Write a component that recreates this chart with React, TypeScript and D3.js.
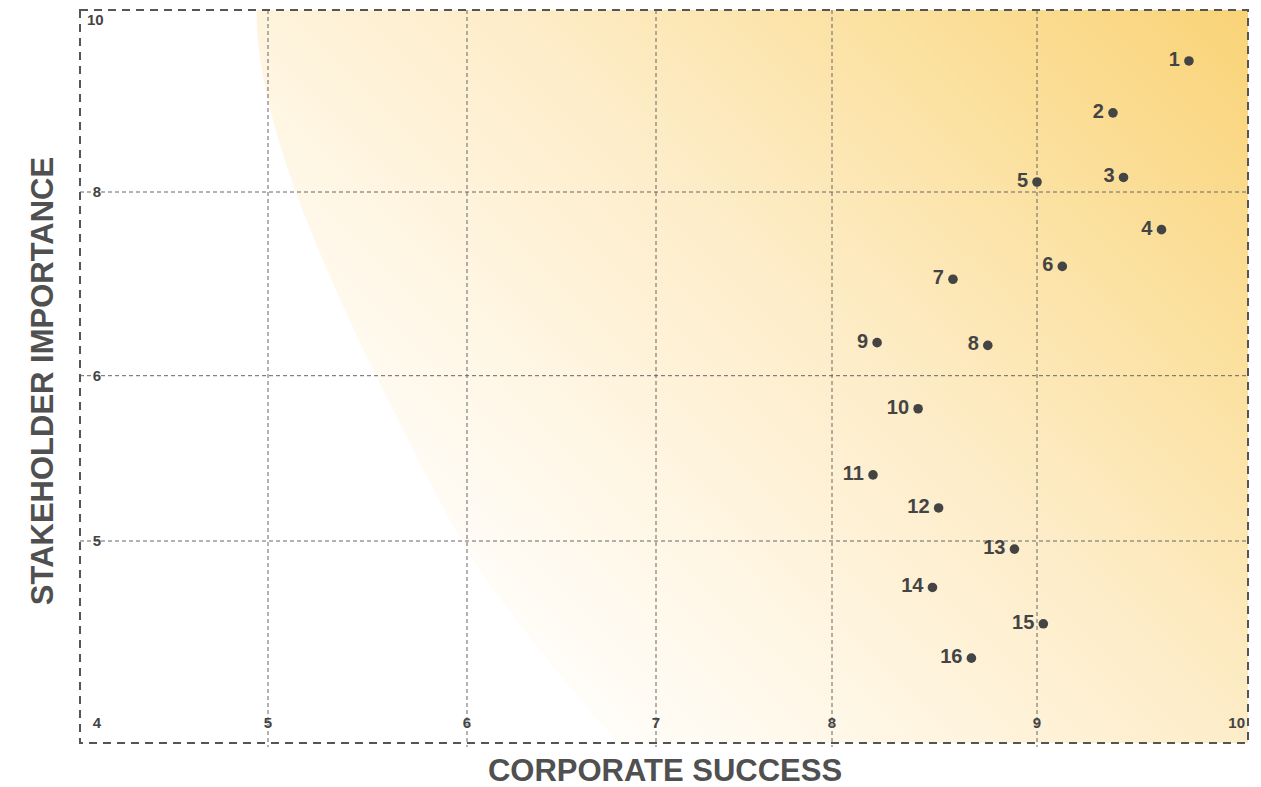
import React from "react";
import * as d3 from "d3";

// ---- data ----
const itemIds = [1, 2, 3, 4, 5, 6, 7, 8, 9, 10, 11, 12, 13, 14, 15, 16];
const corporateSuccess = [9.72, 9.36, 9.41, 9.59, 9.0, 9.12, 8.59, 8.76, 8.22, 8.42, 8.2, 8.52, 8.89, 8.49, 9.03, 8.68];
const stakeholderImportance = [9.44, 8.87, 8.16, 7.59, 8.11, 7.19, 7.05, 6.33, 6.36, 5.8, 5.4, 5.2, 4.96, 4.77, 4.59, 4.42];

const xTicks = [4, 5, 6, 7, 8, 9, 10];
const yTicks = [4, 5, 6, 8, 10];

// boundary of the highlighted zone (in data units)
const zoneX = [4.94, 4.94, 4.99, 5.13, 5.36, 5.54, 5.83, 5.97, 6.17, 6.6, 6.8];
const zoneY = [10, 9.7, 9.01, 8, 6.82, 6, 5.31, 5, 4.71, 4.21, 4];

const W = 1261;
const H = 787;
const L = 80, R = 1248, T = 10, B = 743;

const x = d3.scaleLinear().domain(xTicks).range([80, 268, 467, 656, 832, 1037, 1248]);
const y = d3.scaleLinear().domain(yTicks).range([743, 541, 375.7, 192, 10]);

const font = "'Liberation Sans', Arial, Helvetica, sans-serif";

export default function App() {
  const pts: [number, number][] = zoneX.map((v, i) => [x(v), y(zoneY[i])]);
  const line = d3.line().curve(d3.curveBasis)(pts) || "";
  const zonePath = `${line}L${x(10)},${y(4)}L${x(10)},${y(10)}Z`;

  const gridX = xTicks.filter((t) => t !== 4 && t !== 10);
  const gridY = yTicks.filter((t) => t !== 4 && t !== 10);

  return (
    <svg
      width={W}
      height={H}
      style={{ position: "absolute", left: 0, top: 0, background: "#fff" }}
      fontFamily={font}
    >
      <defs>
        <linearGradient id="zoneGrad" gradientUnits="userSpaceOnUse" x1={R} y1={T} x2={R - 1168 * 0.62} y2={T + 733 * 0.62 * 1.6}>
          <stop offset="0" stopColor="#f9d377" />
          <stop offset="0.25" stopColor="#fbe09e" />
          <stop offset="0.5" stopColor="#fdecc7" />
          <stop offset="0.8" stopColor="#fff8ea" />
          <stop offset="1" stopColor="#ffffff" />
        </linearGradient>
      </defs>

      <path d={zonePath} fill="url(#zoneGrad)" />

      {/* grid */}
      {gridX.map((t) => (
        <line key={"gx" + t} x1={x(t)} x2={x(t)} y1={T} y2={B + 4} stroke="#666" strokeWidth={1} strokeDasharray="4,3" />
      ))}
      {gridY.map((t) => (
        <line key={"gy" + t} x1={L} x2={R} y1={y(t)} y2={y(t)} stroke="#666" strokeWidth={1} strokeDasharray="4,3" />
      ))}

      {/* border */}
      <rect x={L} y={T} width={R - L} height={B - T} fill="none" stroke="#555" strokeWidth={2} strokeDasharray="8,6" />

      {/* y tick labels */}
      {yTicks.map((t) => (
        <text
          key={"yl" + t}
          x={t === 10 ? 87 : 97}
          y={t === 10 ? y(t) + 15 : t === 4 ? 728 : y(t) + 5}
          textAnchor={t === 10 ? "start" : "middle"}
          fontSize={15}
          fontWeight="bold"
          fill="#444"
        >
          {t}
        </text>
      ))}

      {/* x tick labels */}
      {xTicks
        .filter((t) => t !== 4)
        .map((t) => (
          <text
            key={"xl" + t}
            x={t === 10 ? x(t) - 3 : x(t)}
            y={728}
            textAnchor={t === 10 ? "end" : "middle"}
            fontSize={15}
            fontWeight="bold"
            fill="#444"
          >
            {t}
          </text>
        ))}

      {/* points */}
      {itemIds.map((id, i) => {
        const cx = x(corporateSuccess[i]);
        const cy = y(stakeholderImportance[i]);
        return (
          <g key={"p" + id}>
            <circle cx={cx} cy={cy} r={4.8} fill="#444" />
            <text x={cx - 9} y={cy - 2} dy="0.35em" textAnchor="end" fontSize={20} fontWeight="bold" fill="#444">
              {id}
            </text>
          </g>
        );
      })}

      {/* axis titles */}
      <text x={665} y={781} textAnchor="middle" fontSize={31} fontWeight="bold" fill="#505050">
        CORPORATE SUCCESS
      </text>
      <text
        transform={`translate(53,${381}) rotate(-90)`}
        textAnchor="middle"
        fontSize={31}
        fontWeight="bold"
        fill="#505050"
      >
        STAKEHOLDER IMPORTANCE
      </text>
    </svg>
  );
}
